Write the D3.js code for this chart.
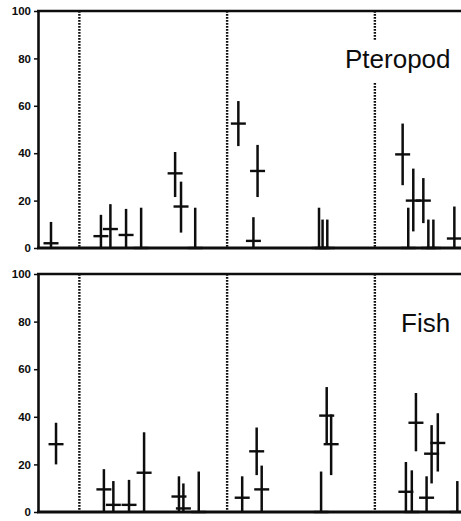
<!DOCTYPE html>
<html>
<head>
<meta charset="utf-8">
<script src="https://cdn.jsdelivr.net/npm/d3@7"></script>
<style>
  html, body { margin: 0; padding: 0; background: #fff; }
  svg { display: block; }
</style>
</head>
<body>
<svg id="chart" width="461" height="521"></svg>
<script>
// Sampling position along the survey (arbitrary units); dotted lines separate cruises
const cruiseBreaks = [14, 64, 114];
const yTicks = [0, 20, 40, 60, 80, 100];

// Pteropod: position, mean and range (% of diet)
const pteropodX    = [4.4, 21.3, 24.5, 29.8, 34.9, 46.4, 48.4, 53.2, 67.8, 72.9, 74.3, 95.1, 96.3, 97.9, 123.4, 125.3, 127.0, 130.4, 132.1, 133.8, 140.9];
const pteropodMean = [2, 5, 8, 5.5, 0, 31.5, 17.5, 0, 52.5, 3, 32.5, 0, 0, 0, 39.5, 0, 20, 20, 0, 0, 4];
const pteropodLow  = [0, 0, 0, 0, 0, 21.5, 6.5, 0, 43, 0, 21.5, 0, 0, 0, 26.5, 0, 7, 10.5, 0, 0, 0];
const pteropodHigh = [11, 14, 18.5, 16.5, 17, 40.5, 28, 17, 62, 13, 43.5, 17, 12, 12, 52.5, 17, 33.5, 29.5, 12, 12, 17.5];

// Fish: position, mean and range (% of diet)
const fishX    = [6.1, 22.3, 25.5, 30.8, 35.9, 47.7, 49.2, 54.4, 69.1, 74.0, 75.7, 95.8, 97.7, 99.2, 124.5, 126.5, 127.9, 131.5, 133.2, 135.3, 141.9];
const fishMean = [28.5, 9.5, 3, 3, 16.5, 6.5, 1.5, 0, 6, 25.5, 9.5, 0, 40.5, 28.5, 8.5, 0, 37.5, 6, 24.5, 29, 0];
const fishLow  = [20, 0, 0, 0, 0, 0, 0, 0, 0, 15.5, 0, 0, 28.5, 15.5, 0, 0, 25.5, 0, 12, 17, 0];
const fishHigh = [37.5, 18, 13, 13.5, 33.5, 15, 12, 17, 15, 35.5, 19.5, 17, 52.5, 41, 21, 17.5, 50, 15, 36.5, 41.5, 13];

const zip = (xs, m, lo, hi) => xs.map((x, i) => ({ x, mean: m[i], low: lo[i], high: hi[i] }));

const panels = [
  { title: "Pteropod", data: zip(pteropodX, pteropodMean, pteropodLow, pteropodHigh),
    top: 11, bottom: 248, titleX: 345, titleY: 68, titleBox: true },
  { title: "Fish", data: zip(fishX, fishMean, fishLow, fishHigh),
    top: 274, bottom: 512, titleX: 401, titleY: 332, titleBox: false }
];

const svg = d3.select("#chart");
const x = d3.scaleLinear().domain([0, 146]).range([38, 38 + 146 * 2.955]);
const xRight = 470;
const ink = "#0d0d0d";

panels.forEach(p => {
  const y = d3.scaleLinear().domain([0, 100]).range([p.bottom, p.top]);
  const g = svg.append("g");

  // cruise separators
  g.selectAll("line.sep").data(cruiseBreaks).join("line")
    .attr("class", "sep")
    .attr("x1", d => x(d)).attr("x2", d => x(d))
    .attr("y1", p.top).attr("y2", p.bottom)
    .attr("stroke", ink).attr("stroke-width", 2.4)
    .attr("stroke-dasharray", "1.8,1.2");

  // panel title on a white patch
  if (p.titleBox) {
    g.append("rect").attr("x", p.titleX - 8).attr("y", p.titleY - 28)
      .attr("width", xRight - p.titleX + 8).attr("height", 43).attr("fill", "#fff");
  }
  g.append("text").attr("x", p.titleX).attr("y", p.titleY)
    .attr("font-family", "Liberation Sans, Arial, sans-serif")
    .attr("font-size", 26).attr("fill", ink).text(p.title);

  // range bars
  g.selectAll("line.range").data(p.data).join("line")
    .attr("class", "range")
    .attr("x1", d => x(d.x)).attr("x2", d => x(d.x))
    .attr("y1", d => y(d.low)).attr("y2", d => y(d.high))
    .attr("stroke", ink).attr("stroke-width", 2.5);

  // mean marks
  g.selectAll("line.mean").data(p.data).join("line")
    .attr("class", "mean")
    .attr("x1", d => x(d.x) - 7.5).attr("x2", d => x(d.x) + 7.5)
    .attr("y1", d => y(d.mean)).attr("y2", d => y(d.mean))
    .attr("stroke", ink).attr("stroke-width", 2.4);

  // frame: top and bottom rules
  g.append("line").attr("x1", x(0) - 1).attr("x2", xRight)
    .attr("y1", p.top).attr("y2", p.top)
    .attr("stroke", ink).attr("stroke-width", 2.6);
  g.append("line").attr("x1", x(0) - 1).attr("x2", xRight)
    .attr("y1", p.bottom).attr("y2", p.bottom)
    .attr("stroke", ink).attr("stroke-width", 3);

  // y axis
  const ax = g.append("g").attr("transform", `translate(${x(0)},0)`)
    .call(d3.axisLeft(y).tickValues(yTicks).tickSize(4).tickPadding(3).tickSizeOuter(0));
  ax.select(".domain").attr("stroke", ink).attr("stroke-width", 2.6);
  ax.selectAll(".tick line").attr("stroke", ink).attr("stroke-width", 1.5);
  ax.selectAll(".tick text")
    .attr("font-family", "Liberation Sans, Arial, sans-serif")
    .attr("font-size", 11.5).attr("font-weight", "bold").attr("fill", ink);
});
</script>
</body>
</html>
